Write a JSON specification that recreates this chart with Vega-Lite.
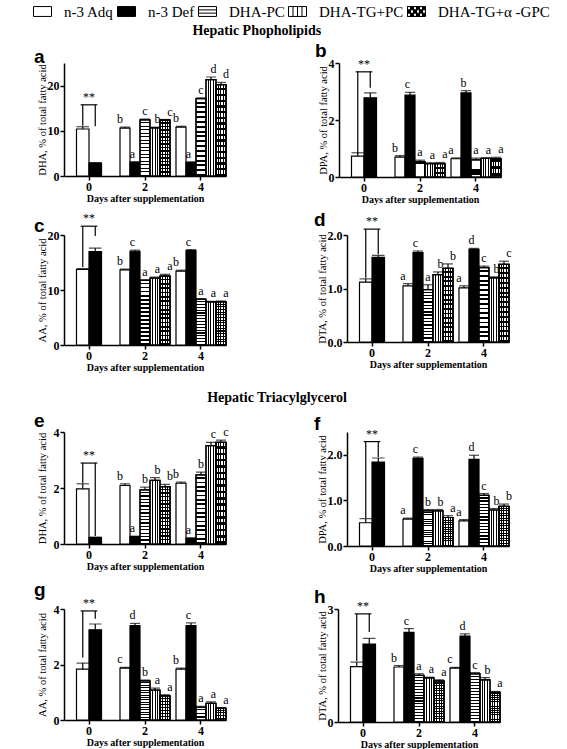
{
"$schema":"https://vega.github.io/schema/vega-lite/v6.json",
"padding":{"left":33,"top":2,"right":50,"bottom":0},
"datasets":{
"bars":[
{"panel":"a","day":0,"group":"n-3 Adq","mean":10.4,"upper":10.9,"letter":""},
{"panel":"a","day":0,"group":"n-3 Def","mean":2.85,"upper":2.95,"letter":""},
{"panel":"a","day":2,"group":"n-3 Adq","mean":10.6,"upper":10.8,"letter":"b"},
{"panel":"a","day":2,"group":"n-3 Def","mean":3.0,"upper":3.15,"letter":"a"},
{"panel":"a","day":2,"group":"DHA-PC","mean":12.4,"upper":12.6,"letter":"c"},
{"panel":"a","day":2,"group":"DHA-TG+PC","mean":10.65,"upper":10.8,"letter":"b"},
{"panel":"a","day":2,"group":"DHA-TG+α -GPC","mean":12.35,"upper":12.5,"letter":"c"},
{"panel":"a","day":4,"group":"n-3 Adq","mean":10.8,"upper":11.0,"letter":"b"},
{"panel":"a","day":4,"group":"n-3 Def","mean":3.0,"upper":3.1,"letter":"a"},
{"panel":"a","day":4,"group":"DHA-PC","mean":17.1,"upper":17.3,"letter":"c"},
{"panel":"a","day":4,"group":"DHA-TG+PC","mean":21.3,"upper":21.9,"letter":"d"},
{"panel":"a","day":4,"group":"DHA-TG+α -GPC","mean":20.2,"upper":20.7,"letter":"d"},
{"panel":"b","day":0,"group":"n-3 Adq","mean":0.73,"upper":0.85,"letter":""},
{"panel":"b","day":0,"group":"n-3 Def","mean":2.78,"upper":2.95,"letter":""},
{"panel":"b","day":2,"group":"n-3 Adq","mean":0.70,"upper":0.75,"letter":"b"},
{"panel":"b","day":2,"group":"n-3 Def","mean":2.87,"upper":2.97,"letter":"c"},
{"panel":"b","day":2,"group":"DHA-PC","mean":0.54,"upper":0.59,"letter":"a"},
{"panel":"b","day":2,"group":"DHA-TG+PC","mean":0.47,"upper":0.5,"letter":"a"},
{"panel":"b","day":2,"group":"DHA-TG+α -GPC","mean":0.47,"upper":0.51,"letter":"a"},
{"panel":"b","day":4,"group":"n-3 Adq","mean":0.64,"upper":0.67,"letter":"a"},
{"panel":"b","day":4,"group":"n-3 Def","mean":2.95,"upper":3.03,"letter":"b"},
{"panel":"b","day":4,"group":"DHA-PC","mean":0.6,"upper":0.66,"letter":"a"},
{"panel":"b","day":4,"group":"DHA-TG+PC","mean":0.65,"upper":0.68,"letter":"a"},
{"panel":"b","day":4,"group":"DHA-TG+α -GPC","mean":0.65,"upper":0.69,"letter":"a"},
{"panel":"c","day":0,"group":"n-3 Adq","mean":13.73,"upper":13.9,"letter":""},
{"panel":"c","day":0,"group":"n-3 Def","mean":17.0,"upper":17.6,"letter":""},
{"panel":"c","day":2,"group":"n-3 Adq","mean":13.67,"upper":13.8,"letter":"b"},
{"panel":"c","day":2,"group":"n-3 Def","mean":17.05,"upper":17.25,"letter":"c"},
{"panel":"c","day":2,"group":"DHA-PC","mean":11.75,"upper":11.85,"letter":"a"},
{"panel":"c","day":2,"group":"DHA-TG+PC","mean":12.17,"upper":12.35,"letter":"a"},
{"panel":"c","day":2,"group":"DHA-TG+α -GPC","mean":12.53,"upper":12.85,"letter":"a"},
{"panel":"c","day":4,"group":"n-3 Adq","mean":13.43,"upper":13.6,"letter":"b"},
{"panel":"c","day":4,"group":"n-3 Def","mean":17.17,"upper":17.35,"letter":"c"},
{"panel":"c","day":4,"group":"DHA-PC","mean":8.31,"upper":8.45,"letter":"a"},
{"panel":"c","day":4,"group":"DHA-TG+PC","mean":7.83,"upper":7.95,"letter":"a"},
{"panel":"c","day":4,"group":"DHA-TG+α -GPC","mean":7.83,"upper":8.0,"letter":"a"},
{"panel":"d","day":0,"group":"n-3 Adq","mean":1.12,"upper":1.18,"letter":""},
{"panel":"d","day":0,"group":"n-3 Def","mean":1.58,"upper":1.62,"letter":""},
{"panel":"d","day":2,"group":"n-3 Adq","mean":1.05,"upper":1.09,"letter":"a"},
{"panel":"d","day":2,"group":"n-3 Def","mean":1.67,"upper":1.70,"letter":"c"},
{"panel":"d","day":2,"group":"DHA-PC","mean":0.98,"upper":1.07,"letter":"a"},
{"panel":"d","day":2,"group":"DHA-TG+PC","mean":1.26,"upper":1.31,"letter":"b"},
{"panel":"d","day":2,"group":"DHA-TG+α -GPC","mean":1.375,"upper":1.46,"letter":"b"},
{"panel":"d","day":4,"group":"n-3 Adq","mean":1.01,"upper":1.05,"letter":"a"},
{"panel":"d","day":4,"group":"n-3 Def","mean":1.73,"upper":1.75,"letter":"d"},
{"panel":"d","day":4,"group":"DHA-PC","mean":1.39,"upper":1.42,"letter":"c"},
{"panel":"d","day":4,"group":"DHA-TG+PC","mean":1.2,"upper":1.22,"letter":"b"},
{"panel":"d","day":4,"group":"DHA-TG+α -GPC","mean":1.45,"upper":1.51,"letter":"c"},
{"panel":"e","day":0,"group":"n-3 Adq","mean":1.97,"upper":2.15,"letter":""},
{"panel":"e","day":0,"group":"n-3 Def","mean":0.23,"upper":0.25,"letter":""},
{"panel":"e","day":2,"group":"n-3 Adq","mean":2.09,"upper":2.15,"letter":"b"},
{"panel":"e","day":2,"group":"n-3 Def","mean":0.26,"upper":0.28,"letter":"a"},
{"panel":"e","day":2,"group":"DHA-PC","mean":1.93,"upper":2.03,"letter":"b"},
{"panel":"e","day":2,"group":"DHA-TG+PC","mean":2.27,"upper":2.37,"letter":"b"},
{"panel":"e","day":2,"group":"DHA-TG+α -GPC","mean":2.05,"upper":2.13,"letter":"b"},
{"panel":"e","day":4,"group":"n-3 Adq","mean":2.17,"upper":2.21,"letter":"b"},
{"panel":"e","day":4,"group":"n-3 Def","mean":0.2,"upper":0.22,"letter":"a"},
{"panel":"e","day":4,"group":"DHA-PC","mean":2.47,"upper":2.57,"letter":"b"},
{"panel":"e","day":4,"group":"DHA-TG+PC","mean":3.51,"upper":3.63,"letter":"c"},
{"panel":"e","day":4,"group":"DHA-TG+α -GPC","mean":3.63,"upper":3.71,"letter":"c"},
{"panel":"f","day":0,"group":"n-3 Adq","mean":0.51,"upper":0.6,"letter":""},
{"panel":"f","day":0,"group":"n-3 Def","mean":1.84,"upper":1.93,"letter":""},
{"panel":"f","day":2,"group":"n-3 Adq","mean":0.59,"upper":0.61,"letter":"a"},
{"panel":"f","day":2,"group":"n-3 Def","mean":1.92,"upper":1.95,"letter":"c"},
{"panel":"f","day":2,"group":"DHA-PC","mean":0.77,"upper":0.8,"letter":"b"},
{"panel":"f","day":2,"group":"DHA-TG+PC","mean":0.77,"upper":0.8,"letter":"b"},
{"panel":"f","day":2,"group":"DHA-TG+α -GPC","mean":0.625,"upper":0.665,"letter":"a"},
{"panel":"f","day":4,"group":"n-3 Adq","mean":0.55,"upper":0.58,"letter":"a"},
{"panel":"f","day":4,"group":"n-3 Def","mean":1.9,"upper":1.99,"letter":"d"},
{"panel":"f","day":4,"group":"DHA-PC","mean":1.11,"upper":1.15,"letter":"c"},
{"panel":"f","day":4,"group":"DHA-TG+PC","mean":0.79,"upper":0.82,"letter":"b"},
{"panel":"f","day":4,"group":"DHA-TG+α -GPC","mean":0.87,"upper":0.92,"letter":"b"},
{"panel":"g","day":0,"group":"n-3 Adq","mean":1.83,"upper":2.05,"letter":""},
{"panel":"g","day":0,"group":"n-3 Def","mean":3.25,"upper":3.46,"letter":""},
{"panel":"g","day":2,"group":"n-3 Adq","mean":1.87,"upper":1.9,"letter":"c"},
{"panel":"g","day":2,"group":"n-3 Def","mean":3.4,"upper":3.48,"letter":"d"},
{"panel":"g","day":2,"group":"DHA-PC","mean":1.41,"upper":1.44,"letter":"b"},
{"panel":"g","day":2,"group":"DHA-TG+PC","mean":1.08,"upper":1.15,"letter":"a"},
{"panel":"g","day":2,"group":"DHA-TG+α -GPC","mean":0.87,"upper":0.91,"letter":"a"},
{"panel":"g","day":4,"group":"n-3 Adq","mean":1.83,"upper":1.87,"letter":"b"},
{"panel":"g","day":4,"group":"n-3 Def","mean":3.4,"upper":3.5,"letter":"c"},
{"panel":"g","day":4,"group":"DHA-PC","mean":0.46,"upper":0.49,"letter":"a"},
{"panel":"g","day":4,"group":"DHA-TG+PC","mean":0.6,"upper":0.65,"letter":"a"},
{"panel":"g","day":4,"group":"DHA-TG+α -GPC","mean":0.42,"upper":0.45,"letter":"a"},
{"panel":"h","day":0,"group":"n-3 Adq","mean":1.47,"upper":1.59,"letter":""},
{"panel":"h","day":0,"group":"n-3 Def","mean":2.07,"upper":2.22,"letter":""},
{"panel":"h","day":2,"group":"n-3 Adq","mean":1.46,"upper":1.5,"letter":"b"},
{"panel":"h","day":2,"group":"n-3 Def","mean":2.38,"upper":2.48,"letter":"c"},
{"panel":"h","day":2,"group":"DHA-PC","mean":1.24,"upper":1.28,"letter":"a"},
{"panel":"h","day":2,"group":"DHA-TG+PC","mean":1.17,"upper":1.19,"letter":"a"},
{"panel":"h","day":2,"group":"DHA-TG+α -GPC","mean":1.09,"upper":1.12,"letter":"a"},
{"panel":"h","day":4,"group":"n-3 Adq","mean":1.43,"upper":1.45,"letter":"c"},
{"panel":"h","day":4,"group":"n-3 Def","mean":2.28,"upper":2.34,"letter":"d"},
{"panel":"h","day":4,"group":"DHA-PC","mean":1.28,"upper":1.31,"letter":"c"},
{"panel":"h","day":4,"group":"DHA-TG+PC","mean":1.12,"upper":1.18,"letter":"b"},
{"panel":"h","day":4,"group":"DHA-TG+α -GPC","mean":0.79,"upper":0.81,"letter":"a"}
],
"brackets":[
{"panel":"a","day":0,"group":"n-3 Adq","bottom":11.1,"top":15.75},
{"panel":"a","day":0,"group":"n-3 Def","bottom":11.0,"top":15.75},
{"panel":"b","day":0,"group":"n-3 Adq","bottom":0.82,"top":3.69},
{"panel":"b","day":0,"group":"n-3 Def","bottom":3.13,"top":3.69},
{"panel":"c","day":0,"group":"n-3 Adq","bottom":14.2,"top":21.6},
{"panel":"c","day":0,"group":"n-3 Def","bottom":19.8,"top":21.6},
{"panel":"d","day":0,"group":"n-3 Adq","bottom":1.2,"top":2.11},
{"panel":"d","day":0,"group":"n-3 Def","bottom":1.64,"top":2.11},
{"panel":"e","day":0,"group":"n-3 Adq","bottom":2.18,"top":2.89},
{"panel":"e","day":0,"group":"n-3 Def","bottom":0.29,"top":2.89},
{"panel":"f","day":0,"group":"n-3 Adq","bottom":0.61,"top":2.29},
{"panel":"f","day":0,"group":"n-3 Def","bottom":1.95,"top":2.29},
{"panel":"g","day":0,"group":"n-3 Adq","bottom":2.25,"top":3.93},
{"panel":"g","day":0,"group":"n-3 Def","bottom":3.65,"top":3.93},
{"panel":"h","day":0,"group":"n-3 Adq","bottom":1.62,"top":2.87},
{"panel":"h","day":0,"group":"n-3 Def","bottom":2.39,"top":2.87}
]
},
"spacing":7,
"vconcat":[
{"width":1,"height":15,"data":{"name":"bars"},"transform":[{"filter":"false"}],"mark":{"type":"point","filled":true,"opacity":1,"stroke":"black","strokeWidth":1},"encoding":{
"shape":{"field":"group","type":"nominal","scale":{"domain":["n-3 Adq","n-3 Def","DHA-PC","DHA-TG+PC","DHA-TG+α -GPC"],"range":["M-1,-0.55H1V0.55H-1Z","M-1,-0.55H1V0.55H-1Z","M-1,-0.55H1V0.55H-1ZM-1,-0.18H1M-1,0.18H1","M-1,-0.55H1V0.55H-1ZM-0.5,-0.55V0.55M0,-0.55V0.55M0.5,-0.55V0.55","M-1,-0.55H1V0.55H-1ZM-1,-0.55V-0.183H-0.667V-0.55ZM-0.333,-0.55V-0.183H0V-0.55ZM0.333,-0.55V-0.183H0.667V-0.55ZM-0.667,-0.183V0.183H-0.333V-0.183ZM0,-0.183V0.183H0.333V-0.183ZM0.667,-0.183V0.183H1V-0.183ZM-1,0.183V0.55H-0.667V0.183ZM-0.333,0.183V0.55H0V0.183ZM0.333,0.183V0.55H0.667V0.183Z"]},"legend":{"title":null,"orient":"none","legendX":-31,"legendY":0,"direction":"horizontal","gridAlign":"none","labelFont":"Liberation Serif","labelFontSize":15,"labelColor":"black","symbolSize":324,"symbolStrokeColor":"black","symbolStrokeWidth":1,"symbolOpacity":1,"labelOffset":12,"columnPadding":1,"labelLimit":300,"encode":{"symbols":{"update":{"stroke":{"value":"black"},"strokeWidth":{"value":1},"opacity":{"value":1}}}}}},
"fill":{"field":"group","type":"nominal","scale":{"domain":["n-3 Adq","n-3 Def","DHA-PC","DHA-TG+PC","DHA-TG+α -GPC"],"range":["white","black","white","white","black"]},"legend":{"title":null,"orient":"none","legendX":-31,"legendY":0,"direction":"horizontal","gridAlign":"none","labelFont":"Liberation Serif","labelFontSize":15,"labelColor":"black","symbolSize":324,"symbolStrokeColor":"black","symbolStrokeWidth":1,"symbolOpacity":1,"labelOffset":12,"columnPadding":1,"labelLimit":300,"encode":{"symbols":{"update":{"stroke":{"value":"black"},"strokeWidth":{"value":1},"opacity":{"value":1}}}}}}}},
{"title":{"text":"Hepatic Phopholipids","anchor":"middle","dx":-12},"spacing":85,"hconcat":[
{"width":162,"height":113,"title":{"text":"a","anchor":"start","font":"Liberation Sans","fontSize":19,"fontWeight":"bold","offset":-4,"dx":-3},"resolve":{"scale":{"xOffset":"independent"}},"layer":[
{"data":{"name":"bars"},"transform":[{"filter":"datum.panel=='a'&&datum.day>0"}],"mark":"bar","encoding":{"x":{"field":"day","type":"ordinal","scale":{"domain":[0,2,4],"paddingInner":0.107,"paddingOuter":0},"axis":{"title":"Days after supplementation"}},"xOffset":{"field":"group","type":"nominal","scale":{"domain":["n-3 Adq","n-3 Def","DHA-PC","DHA-TG+PC","DHA-TG+α -GPC"],"paddingInner":0,"paddingOuter":0}},"y":{"field":"mean","type":"quantitative","scale":{"domain":[0,25],"nice":false},"axis":{"title":"DHA, % of total fatty acid","values":[0,5,10,15,20,25]}},"fill":{"condition":{"test":"datum.group=='n-3 Def'","value":"black"},"value":"white"}}},
{"data":{"name":"bars"},"transform":[{"filter":"datum.panel=='a'&&(datum.group=='DHA-PC'||datum.group=='DHA-TG+α -GPC')"}],"mark":{"type":"bar","fill":{"gradient":"linear","x1":0,"y1":0,"x2":0,"y2":1,"stops":[{"offset":0,"color":"transparent"},{"offset":0.0375,"color":"transparent"},{"offset":0.0375,"color":"black"},{"offset":0.0625,"color":"black"},{"offset":0.0625,"color":"transparent"},{"offset":0.1,"color":"transparent"},{"offset":0.1,"color":"black"},{"offset":0.125,"color":"black"},{"offset":0.125,"color":"transparent"},{"offset":0.1625,"color":"transparent"},{"offset":0.1625,"color":"black"},{"offset":0.1875,"color":"black"},{"offset":0.1875,"color":"transparent"},{"offset":0.225,"color":"transparent"},{"offset":0.225,"color":"black"},{"offset":0.25,"color":"black"},{"offset":0.25,"color":"transparent"},{"offset":0.2875,"color":"transparent"},{"offset":0.2875,"color":"black"},{"offset":0.3125,"color":"black"},{"offset":0.3125,"color":"transparent"},{"offset":0.35,"color":"transparent"},{"offset":0.35,"color":"black"},{"offset":0.375,"color":"black"},{"offset":0.375,"color":"transparent"},{"offset":0.4125,"color":"transparent"},{"offset":0.4125,"color":"black"},{"offset":0.4375,"color":"black"},{"offset":0.4375,"color":"transparent"},{"offset":0.475,"color":"transparent"},{"offset":0.475,"color":"black"},{"offset":0.5,"color":"black"},{"offset":0.5,"color":"transparent"},{"offset":0.5375,"color":"transparent"},{"offset":0.5375,"color":"black"},{"offset":0.5625,"color":"black"},{"offset":0.5625,"color":"transparent"},{"offset":0.6,"color":"transparent"},{"offset":0.6,"color":"black"},{"offset":0.625,"color":"black"},{"offset":0.625,"color":"transparent"},{"offset":0.6625,"color":"transparent"},{"offset":0.6625,"color":"black"},{"offset":0.6875,"color":"black"},{"offset":0.6875,"color":"transparent"},{"offset":0.725,"color":"transparent"},{"offset":0.725,"color":"black"},{"offset":0.75,"color":"black"},{"offset":0.75,"color":"transparent"},{"offset":0.7875,"color":"transparent"},{"offset":0.7875,"color":"black"},{"offset":0.8125,"color":"black"},{"offset":0.8125,"color":"transparent"},{"offset":0.85,"color":"transparent"},{"offset":0.85,"color":"black"},{"offset":0.875,"color":"black"},{"offset":0.875,"color":"transparent"},{"offset":0.9125,"color":"transparent"},{"offset":0.9125,"color":"black"},{"offset":0.9375,"color":"black"},{"offset":0.9375,"color":"transparent"},{"offset":0.975,"color":"transparent"},{"offset":0.975,"color":"black"},{"offset":1,"color":"black"}]}},"encoding":{"x":{"field":"day","type":"ordinal"},"xOffset":{"field":"group","type":"nominal","scale":{"domain":["n-3 Adq","n-3 Def","DHA-PC","DHA-TG+PC","DHA-TG+α -GPC"],"paddingInner":0,"paddingOuter":0}},"y":{"field":"mean","type":"quantitative"}}},
{"data":{"name":"bars"},"transform":[{"filter":"datum.panel=='a'&&(datum.group=='DHA-TG+PC'||datum.group=='DHA-TG+α -GPC')"}],"mark":{"type":"bar","fill":{"gradient":"linear","x1":0,"y1":0,"x2":1,"y2":0,"stops":[{"offset":0,"color":"transparent"},{"offset":0.2,"color":"transparent"},{"offset":0.2,"color":"black"},{"offset":0.3,"color":"black"},{"offset":0.3,"color":"transparent"},{"offset":0.45,"color":"transparent"},{"offset":0.45,"color":"black"},{"offset":0.55,"color":"black"},{"offset":0.55,"color":"transparent"},{"offset":0.7,"color":"transparent"},{"offset":0.7,"color":"black"},{"offset":0.8,"color":"black"},{"offset":0.8,"color":"transparent"},{"offset":1,"color":"transparent"}]}},"encoding":{"x":{"field":"day","type":"ordinal"},"xOffset":{"field":"group","type":"nominal","scale":{"domain":["n-3 Adq","n-3 Def","DHA-PC","DHA-TG+PC","DHA-TG+α -GPC"],"paddingInner":0,"paddingOuter":0}},"y":{"field":"mean","type":"quantitative"}}},
{"data":{"name":"bars"},"transform":[{"filter":"datum.panel=='a'&&datum.day>0"}],"mark":"rule","encoding":{"x":{"field":"day","type":"ordinal"},"xOffset":{"field":"group","type":"nominal","scale":{"domain":["n-3 Adq","n-3 Def","DHA-PC","DHA-TG+PC","DHA-TG+α -GPC"],"paddingInner":0,"paddingOuter":0}},"y":{"field":"mean","type":"quantitative"},"y2":{"field":"upper"}}},
{"data":{"name":"bars"},"transform":[{"filter":"datum.panel=='a'&&datum.day>0"}],"mark":"tick","encoding":{"x":{"field":"day","type":"ordinal"},"xOffset":{"field":"group","type":"nominal","scale":{"domain":["n-3 Adq","n-3 Def","DHA-PC","DHA-TG+PC","DHA-TG+α -GPC"],"paddingInner":0,"paddingOuter":0}},"y":{"field":"upper","type":"quantitative"}}},
{"data":{"name":"bars"},"transform":[{"filter":"datum.panel=='a'&&datum.day>0"}],"mark":"text","encoding":{"x":{"field":"day","type":"ordinal"},"xOffset":{"field":"group","type":"nominal","scale":{"domain":["n-3 Adq","n-3 Def","DHA-PC","DHA-TG+PC","DHA-TG+α -GPC"],"paddingInner":0,"paddingOuter":0}},"y":{"field":"upper","type":"quantitative"},"text":{"field":"letter"}}},
{"data":{"name":"bars"},"transform":[{"filter":"datum.panel=='a'&&datum.day==0"}],"mark":"bar","encoding":{"x":{"field":"day","type":"ordinal"},"xOffset":{"field":"group","type":"nominal","scale":{"domain":["n-3 Adq","n-3 Def"],"paddingInner":0,"paddingOuter":1.5}},"y":{"field":"mean","type":"quantitative"},"fill":{"condition":{"test":"datum.group=='n-3 Def'","value":"black"},"value":"white"}}},
{"data":{"name":"bars"},"transform":[{"filter":"datum.panel=='a'&&datum.day==0"}],"mark":"rule","encoding":{"x":{"field":"day","type":"ordinal"},"xOffset":{"field":"group","type":"nominal","scale":{"domain":["n-3 Adq","n-3 Def"],"paddingInner":0,"paddingOuter":1.5}},"y":{"field":"mean","type":"quantitative"},"y2":{"field":"upper"}}},
{"data":{"name":"bars"},"transform":[{"filter":"datum.panel=='a'&&datum.day==0"}],"mark":"tick","encoding":{"x":{"field":"day","type":"ordinal"},"xOffset":{"field":"group","type":"nominal","scale":{"domain":["n-3 Adq","n-3 Def"],"paddingInner":0,"paddingOuter":1.5}},"y":{"field":"upper","type":"quantitative"}}},
{"data":{"name":"brackets"},"transform":[{"filter":"datum.panel=='a'"}],"mark":"rule","encoding":{"x":{"field":"day","type":"ordinal"},"xOffset":{"field":"group","type":"nominal","scale":{"domain":["n-3 Adq","n-3 Def"],"paddingInner":0,"paddingOuter":1.5}},"y":{"field":"bottom","type":"quantitative"},"y2":{"field":"top"}}},
{"data":{"name":"brackets"},"transform":[{"filter":"datum.panel=='a'"}],"mark":"line","encoding":{"x":{"field":"day","type":"ordinal"},"xOffset":{"field":"group","type":"nominal","scale":{"domain":["n-3 Adq","n-3 Def"],"paddingInner":0,"paddingOuter":1.5}},"y":{"field":"top","type":"quantitative"}}},
{"data":{"name":"brackets"},"transform":[{"filter":"datum.panel=='a'&&datum.group=='n-3 Adq'"}],"mark":"text","encoding":{"x":{"field":"day","type":"ordinal"},"y":{"field":"top","type":"quantitative"},"text":{"value":"**"}}}
]},
{"width":162,"height":114,"title":{"text":"b","anchor":"start","font":"Liberation Sans","fontSize":19,"fontWeight":"bold","offset":-4,"dx":-3},"resolve":{"scale":{"xOffset":"independent"}},"layer":[
{"data":{"name":"bars"},"transform":[{"filter":"datum.panel=='b'&&datum.day>0"}],"mark":"bar","encoding":{"x":{"field":"day","type":"ordinal","scale":{"domain":[0,2,4],"paddingInner":0.107,"paddingOuter":0},"axis":{"title":"Days after supplementation"}},"xOffset":{"field":"group","type":"nominal","scale":{"domain":["n-3 Adq","n-3 Def","DHA-PC","DHA-TG+PC","DHA-TG+α -GPC"],"paddingInner":0,"paddingOuter":0}},"y":{"field":"mean","type":"quantitative","scale":{"domain":[0,4],"nice":false},"axis":{"title":"DPA, % of total fatty acid","values":[0,1,2,3,4]}},"fill":{"condition":{"test":"datum.group=='n-3 Def'","value":"black"},"value":"white"}}},
{"data":{"name":"bars"},"transform":[{"filter":"datum.panel=='b'&&(datum.group=='DHA-PC'||datum.group=='DHA-TG+α -GPC')"}],"mark":{"type":"bar","fill":{"gradient":"linear","x1":0,"y1":0,"x2":0,"y2":1,"stops":[{"offset":0,"color":"transparent"},{"offset":0.0375,"color":"transparent"},{"offset":0.0375,"color":"black"},{"offset":0.0625,"color":"black"},{"offset":0.0625,"color":"transparent"},{"offset":0.1,"color":"transparent"},{"offset":0.1,"color":"black"},{"offset":0.125,"color":"black"},{"offset":0.125,"color":"transparent"},{"offset":0.1625,"color":"transparent"},{"offset":0.1625,"color":"black"},{"offset":0.1875,"color":"black"},{"offset":0.1875,"color":"transparent"},{"offset":0.225,"color":"transparent"},{"offset":0.225,"color":"black"},{"offset":0.25,"color":"black"},{"offset":0.25,"color":"transparent"},{"offset":0.2875,"color":"transparent"},{"offset":0.2875,"color":"black"},{"offset":0.3125,"color":"black"},{"offset":0.3125,"color":"transparent"},{"offset":0.35,"color":"transparent"},{"offset":0.35,"color":"black"},{"offset":0.375,"color":"black"},{"offset":0.375,"color":"transparent"},{"offset":0.4125,"color":"transparent"},{"offset":0.4125,"color":"black"},{"offset":0.4375,"color":"black"},{"offset":0.4375,"color":"transparent"},{"offset":0.475,"color":"transparent"},{"offset":0.475,"color":"black"},{"offset":0.5,"color":"black"},{"offset":0.5,"color":"transparent"},{"offset":0.5375,"color":"transparent"},{"offset":0.5375,"color":"black"},{"offset":0.5625,"color":"black"},{"offset":0.5625,"color":"transparent"},{"offset":0.6,"color":"transparent"},{"offset":0.6,"color":"black"},{"offset":0.625,"color":"black"},{"offset":0.625,"color":"transparent"},{"offset":0.6625,"color":"transparent"},{"offset":0.6625,"color":"black"},{"offset":0.6875,"color":"black"},{"offset":0.6875,"color":"transparent"},{"offset":0.725,"color":"transparent"},{"offset":0.725,"color":"black"},{"offset":0.75,"color":"black"},{"offset":0.75,"color":"transparent"},{"offset":0.7875,"color":"transparent"},{"offset":0.7875,"color":"black"},{"offset":0.8125,"color":"black"},{"offset":0.8125,"color":"transparent"},{"offset":0.85,"color":"transparent"},{"offset":0.85,"color":"black"},{"offset":0.875,"color":"black"},{"offset":0.875,"color":"transparent"},{"offset":0.9125,"color":"transparent"},{"offset":0.9125,"color":"black"},{"offset":0.9375,"color":"black"},{"offset":0.9375,"color":"transparent"},{"offset":0.975,"color":"transparent"},{"offset":0.975,"color":"black"},{"offset":1,"color":"black"}]}},"encoding":{"x":{"field":"day","type":"ordinal"},"xOffset":{"field":"group","type":"nominal","scale":{"domain":["n-3 Adq","n-3 Def","DHA-PC","DHA-TG+PC","DHA-TG+α -GPC"],"paddingInner":0,"paddingOuter":0}},"y":{"field":"mean","type":"quantitative"}}},
{"data":{"name":"bars"},"transform":[{"filter":"datum.panel=='b'&&(datum.group=='DHA-TG+PC'||datum.group=='DHA-TG+α -GPC')"}],"mark":{"type":"bar","fill":{"gradient":"linear","x1":0,"y1":0,"x2":1,"y2":0,"stops":[{"offset":0,"color":"transparent"},{"offset":0.2,"color":"transparent"},{"offset":0.2,"color":"black"},{"offset":0.3,"color":"black"},{"offset":0.3,"color":"transparent"},{"offset":0.45,"color":"transparent"},{"offset":0.45,"color":"black"},{"offset":0.55,"color":"black"},{"offset":0.55,"color":"transparent"},{"offset":0.7,"color":"transparent"},{"offset":0.7,"color":"black"},{"offset":0.8,"color":"black"},{"offset":0.8,"color":"transparent"},{"offset":1,"color":"transparent"}]}},"encoding":{"x":{"field":"day","type":"ordinal"},"xOffset":{"field":"group","type":"nominal","scale":{"domain":["n-3 Adq","n-3 Def","DHA-PC","DHA-TG+PC","DHA-TG+α -GPC"],"paddingInner":0,"paddingOuter":0}},"y":{"field":"mean","type":"quantitative"}}},
{"data":{"name":"bars"},"transform":[{"filter":"datum.panel=='b'&&datum.day>0"}],"mark":"rule","encoding":{"x":{"field":"day","type":"ordinal"},"xOffset":{"field":"group","type":"nominal","scale":{"domain":["n-3 Adq","n-3 Def","DHA-PC","DHA-TG+PC","DHA-TG+α -GPC"],"paddingInner":0,"paddingOuter":0}},"y":{"field":"mean","type":"quantitative"},"y2":{"field":"upper"}}},
{"data":{"name":"bars"},"transform":[{"filter":"datum.panel=='b'&&datum.day>0"}],"mark":"tick","encoding":{"x":{"field":"day","type":"ordinal"},"xOffset":{"field":"group","type":"nominal","scale":{"domain":["n-3 Adq","n-3 Def","DHA-PC","DHA-TG+PC","DHA-TG+α -GPC"],"paddingInner":0,"paddingOuter":0}},"y":{"field":"upper","type":"quantitative"}}},
{"data":{"name":"bars"},"transform":[{"filter":"datum.panel=='b'&&datum.day>0"}],"mark":"text","encoding":{"x":{"field":"day","type":"ordinal"},"xOffset":{"field":"group","type":"nominal","scale":{"domain":["n-3 Adq","n-3 Def","DHA-PC","DHA-TG+PC","DHA-TG+α -GPC"],"paddingInner":0,"paddingOuter":0}},"y":{"field":"upper","type":"quantitative"},"text":{"field":"letter"}}},
{"data":{"name":"bars"},"transform":[{"filter":"datum.panel=='b'&&datum.day==0"}],"mark":"bar","encoding":{"x":{"field":"day","type":"ordinal"},"xOffset":{"field":"group","type":"nominal","scale":{"domain":["n-3 Adq","n-3 Def"],"paddingInner":0,"paddingOuter":1.5}},"y":{"field":"mean","type":"quantitative"},"fill":{"condition":{"test":"datum.group=='n-3 Def'","value":"black"},"value":"white"}}},
{"data":{"name":"bars"},"transform":[{"filter":"datum.panel=='b'&&datum.day==0"}],"mark":"rule","encoding":{"x":{"field":"day","type":"ordinal"},"xOffset":{"field":"group","type":"nominal","scale":{"domain":["n-3 Adq","n-3 Def"],"paddingInner":0,"paddingOuter":1.5}},"y":{"field":"mean","type":"quantitative"},"y2":{"field":"upper"}}},
{"data":{"name":"bars"},"transform":[{"filter":"datum.panel=='b'&&datum.day==0"}],"mark":"tick","encoding":{"x":{"field":"day","type":"ordinal"},"xOffset":{"field":"group","type":"nominal","scale":{"domain":["n-3 Adq","n-3 Def"],"paddingInner":0,"paddingOuter":1.5}},"y":{"field":"upper","type":"quantitative"}}},
{"data":{"name":"brackets"},"transform":[{"filter":"datum.panel=='b'"}],"mark":"rule","encoding":{"x":{"field":"day","type":"ordinal"},"xOffset":{"field":"group","type":"nominal","scale":{"domain":["n-3 Adq","n-3 Def"],"paddingInner":0,"paddingOuter":1.5}},"y":{"field":"bottom","type":"quantitative"},"y2":{"field":"top"}}},
{"data":{"name":"brackets"},"transform":[{"filter":"datum.panel=='b'"}],"mark":"line","encoding":{"x":{"field":"day","type":"ordinal"},"xOffset":{"field":"group","type":"nominal","scale":{"domain":["n-3 Adq","n-3 Def"],"paddingInner":0,"paddingOuter":1.5}},"y":{"field":"top","type":"quantitative"}}},
{"data":{"name":"brackets"},"transform":[{"filter":"datum.panel=='b'&&datum.group=='n-3 Adq'"}],"mark":"text","encoding":{"x":{"field":"day","type":"ordinal"},"y":{"field":"top","type":"quantitative"},"text":{"value":"**"}}}
]}
]},
{"spacing":85,"hconcat":[
{"width":162,"height":110,"title":{"text":"c","anchor":"start","font":"Liberation Sans","fontSize":19,"fontWeight":"bold","offset":-24,"dx":-3},"resolve":{"scale":{"xOffset":"independent"}},"layer":[
{"data":{"name":"bars"},"transform":[{"filter":"datum.panel=='c'&&datum.day>0"}],"mark":"bar","encoding":{"x":{"field":"day","type":"ordinal","scale":{"domain":[0,2,4],"paddingInner":0.107,"paddingOuter":0},"axis":{"title":"Days after supplementation"}},"xOffset":{"field":"group","type":"nominal","scale":{"domain":["n-3 Adq","n-3 Def","DHA-PC","DHA-TG+PC","DHA-TG+α -GPC"],"paddingInner":0,"paddingOuter":0}},"y":{"field":"mean","type":"quantitative","scale":{"domain":[0,20],"nice":false},"axis":{"title":"AA, % of total fatty acid","values":[0,5,10,15,20]}},"fill":{"condition":{"test":"datum.group=='n-3 Def'","value":"black"},"value":"white"}}},
{"data":{"name":"bars"},"transform":[{"filter":"datum.panel=='c'&&(datum.group=='DHA-PC'||datum.group=='DHA-TG+α -GPC')"}],"mark":{"type":"bar","fill":{"gradient":"linear","x1":0,"y1":0,"x2":0,"y2":1,"stops":[{"offset":0,"color":"transparent"},{"offset":0.0375,"color":"transparent"},{"offset":0.0375,"color":"black"},{"offset":0.0625,"color":"black"},{"offset":0.0625,"color":"transparent"},{"offset":0.1,"color":"transparent"},{"offset":0.1,"color":"black"},{"offset":0.125,"color":"black"},{"offset":0.125,"color":"transparent"},{"offset":0.1625,"color":"transparent"},{"offset":0.1625,"color":"black"},{"offset":0.1875,"color":"black"},{"offset":0.1875,"color":"transparent"},{"offset":0.225,"color":"transparent"},{"offset":0.225,"color":"black"},{"offset":0.25,"color":"black"},{"offset":0.25,"color":"transparent"},{"offset":0.2875,"color":"transparent"},{"offset":0.2875,"color":"black"},{"offset":0.3125,"color":"black"},{"offset":0.3125,"color":"transparent"},{"offset":0.35,"color":"transparent"},{"offset":0.35,"color":"black"},{"offset":0.375,"color":"black"},{"offset":0.375,"color":"transparent"},{"offset":0.4125,"color":"transparent"},{"offset":0.4125,"color":"black"},{"offset":0.4375,"color":"black"},{"offset":0.4375,"color":"transparent"},{"offset":0.475,"color":"transparent"},{"offset":0.475,"color":"black"},{"offset":0.5,"color":"black"},{"offset":0.5,"color":"transparent"},{"offset":0.5375,"color":"transparent"},{"offset":0.5375,"color":"black"},{"offset":0.5625,"color":"black"},{"offset":0.5625,"color":"transparent"},{"offset":0.6,"color":"transparent"},{"offset":0.6,"color":"black"},{"offset":0.625,"color":"black"},{"offset":0.625,"color":"transparent"},{"offset":0.6625,"color":"transparent"},{"offset":0.6625,"color":"black"},{"offset":0.6875,"color":"black"},{"offset":0.6875,"color":"transparent"},{"offset":0.725,"color":"transparent"},{"offset":0.725,"color":"black"},{"offset":0.75,"color":"black"},{"offset":0.75,"color":"transparent"},{"offset":0.7875,"color":"transparent"},{"offset":0.7875,"color":"black"},{"offset":0.8125,"color":"black"},{"offset":0.8125,"color":"transparent"},{"offset":0.85,"color":"transparent"},{"offset":0.85,"color":"black"},{"offset":0.875,"color":"black"},{"offset":0.875,"color":"transparent"},{"offset":0.9125,"color":"transparent"},{"offset":0.9125,"color":"black"},{"offset":0.9375,"color":"black"},{"offset":0.9375,"color":"transparent"},{"offset":0.975,"color":"transparent"},{"offset":0.975,"color":"black"},{"offset":1,"color":"black"}]}},"encoding":{"x":{"field":"day","type":"ordinal"},"xOffset":{"field":"group","type":"nominal","scale":{"domain":["n-3 Adq","n-3 Def","DHA-PC","DHA-TG+PC","DHA-TG+α -GPC"],"paddingInner":0,"paddingOuter":0}},"y":{"field":"mean","type":"quantitative"}}},
{"data":{"name":"bars"},"transform":[{"filter":"datum.panel=='c'&&(datum.group=='DHA-TG+PC'||datum.group=='DHA-TG+α -GPC')"}],"mark":{"type":"bar","fill":{"gradient":"linear","x1":0,"y1":0,"x2":1,"y2":0,"stops":[{"offset":0,"color":"transparent"},{"offset":0.2,"color":"transparent"},{"offset":0.2,"color":"black"},{"offset":0.3,"color":"black"},{"offset":0.3,"color":"transparent"},{"offset":0.45,"color":"transparent"},{"offset":0.45,"color":"black"},{"offset":0.55,"color":"black"},{"offset":0.55,"color":"transparent"},{"offset":0.7,"color":"transparent"},{"offset":0.7,"color":"black"},{"offset":0.8,"color":"black"},{"offset":0.8,"color":"transparent"},{"offset":1,"color":"transparent"}]}},"encoding":{"x":{"field":"day","type":"ordinal"},"xOffset":{"field":"group","type":"nominal","scale":{"domain":["n-3 Adq","n-3 Def","DHA-PC","DHA-TG+PC","DHA-TG+α -GPC"],"paddingInner":0,"paddingOuter":0}},"y":{"field":"mean","type":"quantitative"}}},
{"data":{"name":"bars"},"transform":[{"filter":"datum.panel=='c'&&datum.day>0"}],"mark":"rule","encoding":{"x":{"field":"day","type":"ordinal"},"xOffset":{"field":"group","type":"nominal","scale":{"domain":["n-3 Adq","n-3 Def","DHA-PC","DHA-TG+PC","DHA-TG+α -GPC"],"paddingInner":0,"paddingOuter":0}},"y":{"field":"mean","type":"quantitative"},"y2":{"field":"upper"}}},
{"data":{"name":"bars"},"transform":[{"filter":"datum.panel=='c'&&datum.day>0"}],"mark":"tick","encoding":{"x":{"field":"day","type":"ordinal"},"xOffset":{"field":"group","type":"nominal","scale":{"domain":["n-3 Adq","n-3 Def","DHA-PC","DHA-TG+PC","DHA-TG+α -GPC"],"paddingInner":0,"paddingOuter":0}},"y":{"field":"upper","type":"quantitative"}}},
{"data":{"name":"bars"},"transform":[{"filter":"datum.panel=='c'&&datum.day>0"}],"mark":"text","encoding":{"x":{"field":"day","type":"ordinal"},"xOffset":{"field":"group","type":"nominal","scale":{"domain":["n-3 Adq","n-3 Def","DHA-PC","DHA-TG+PC","DHA-TG+α -GPC"],"paddingInner":0,"paddingOuter":0}},"y":{"field":"upper","type":"quantitative"},"text":{"field":"letter"}}},
{"data":{"name":"bars"},"transform":[{"filter":"datum.panel=='c'&&datum.day==0"}],"mark":"bar","encoding":{"x":{"field":"day","type":"ordinal"},"xOffset":{"field":"group","type":"nominal","scale":{"domain":["n-3 Adq","n-3 Def"],"paddingInner":0,"paddingOuter":1.5}},"y":{"field":"mean","type":"quantitative"},"fill":{"condition":{"test":"datum.group=='n-3 Def'","value":"black"},"value":"white"}}},
{"data":{"name":"bars"},"transform":[{"filter":"datum.panel=='c'&&datum.day==0"}],"mark":"rule","encoding":{"x":{"field":"day","type":"ordinal"},"xOffset":{"field":"group","type":"nominal","scale":{"domain":["n-3 Adq","n-3 Def"],"paddingInner":0,"paddingOuter":1.5}},"y":{"field":"mean","type":"quantitative"},"y2":{"field":"upper"}}},
{"data":{"name":"bars"},"transform":[{"filter":"datum.panel=='c'&&datum.day==0"}],"mark":"tick","encoding":{"x":{"field":"day","type":"ordinal"},"xOffset":{"field":"group","type":"nominal","scale":{"domain":["n-3 Adq","n-3 Def"],"paddingInner":0,"paddingOuter":1.5}},"y":{"field":"upper","type":"quantitative"}}},
{"data":{"name":"brackets"},"transform":[{"filter":"datum.panel=='c'"}],"mark":"rule","encoding":{"x":{"field":"day","type":"ordinal"},"xOffset":{"field":"group","type":"nominal","scale":{"domain":["n-3 Adq","n-3 Def"],"paddingInner":0,"paddingOuter":1.5}},"y":{"field":"bottom","type":"quantitative"},"y2":{"field":"top"}}},
{"data":{"name":"brackets"},"transform":[{"filter":"datum.panel=='c'"}],"mark":"line","encoding":{"x":{"field":"day","type":"ordinal"},"xOffset":{"field":"group","type":"nominal","scale":{"domain":["n-3 Adq","n-3 Def"],"paddingInner":0,"paddingOuter":1.5}},"y":{"field":"top","type":"quantitative"}}},
{"data":{"name":"brackets"},"transform":[{"filter":"datum.panel=='c'&&datum.group=='n-3 Adq'"}],"mark":"text","encoding":{"x":{"field":"day","type":"ordinal"},"y":{"field":"top","type":"quantitative"},"text":{"value":"**"}}}
]},
{"width":162,"height":107,"title":{"text":"d","anchor":"start","font":"Liberation Sans","fontSize":19,"fontWeight":"bold","offset":-15,"dx":-3},"resolve":{"scale":{"xOffset":"independent"}},"layer":[
{"data":{"name":"bars"},"transform":[{"filter":"datum.panel=='d'&&datum.day>0"}],"mark":"bar","encoding":{"x":{"field":"day","type":"ordinal","scale":{"domain":[0,2,4],"paddingInner":0.107,"paddingOuter":0},"axis":{"title":"Days after supplementation"}},"xOffset":{"field":"group","type":"nominal","scale":{"domain":["n-3 Adq","n-3 Def","DHA-PC","DHA-TG+PC","DHA-TG+α -GPC"],"paddingInner":0,"paddingOuter":0}},"y":{"field":"mean","type":"quantitative","scale":{"domain":[0,2],"nice":false},"axis":{"title":"DTA, % of total fatty acid","values":[0,0.5,1,1.5,2],"format":".1f"}},"fill":{"condition":{"test":"datum.group=='n-3 Def'","value":"black"},"value":"white"}}},
{"data":{"name":"bars"},"transform":[{"filter":"datum.panel=='d'&&(datum.group=='DHA-PC'||datum.group=='DHA-TG+α -GPC')"}],"mark":{"type":"bar","fill":{"gradient":"linear","x1":0,"y1":0,"x2":0,"y2":1,"stops":[{"offset":0,"color":"transparent"},{"offset":0.0375,"color":"transparent"},{"offset":0.0375,"color":"black"},{"offset":0.0625,"color":"black"},{"offset":0.0625,"color":"transparent"},{"offset":0.1,"color":"transparent"},{"offset":0.1,"color":"black"},{"offset":0.125,"color":"black"},{"offset":0.125,"color":"transparent"},{"offset":0.1625,"color":"transparent"},{"offset":0.1625,"color":"black"},{"offset":0.1875,"color":"black"},{"offset":0.1875,"color":"transparent"},{"offset":0.225,"color":"transparent"},{"offset":0.225,"color":"black"},{"offset":0.25,"color":"black"},{"offset":0.25,"color":"transparent"},{"offset":0.2875,"color":"transparent"},{"offset":0.2875,"color":"black"},{"offset":0.3125,"color":"black"},{"offset":0.3125,"color":"transparent"},{"offset":0.35,"color":"transparent"},{"offset":0.35,"color":"black"},{"offset":0.375,"color":"black"},{"offset":0.375,"color":"transparent"},{"offset":0.4125,"color":"transparent"},{"offset":0.4125,"color":"black"},{"offset":0.4375,"color":"black"},{"offset":0.4375,"color":"transparent"},{"offset":0.475,"color":"transparent"},{"offset":0.475,"color":"black"},{"offset":0.5,"color":"black"},{"offset":0.5,"color":"transparent"},{"offset":0.5375,"color":"transparent"},{"offset":0.5375,"color":"black"},{"offset":0.5625,"color":"black"},{"offset":0.5625,"color":"transparent"},{"offset":0.6,"color":"transparent"},{"offset":0.6,"color":"black"},{"offset":0.625,"color":"black"},{"offset":0.625,"color":"transparent"},{"offset":0.6625,"color":"transparent"},{"offset":0.6625,"color":"black"},{"offset":0.6875,"color":"black"},{"offset":0.6875,"color":"transparent"},{"offset":0.725,"color":"transparent"},{"offset":0.725,"color":"black"},{"offset":0.75,"color":"black"},{"offset":0.75,"color":"transparent"},{"offset":0.7875,"color":"transparent"},{"offset":0.7875,"color":"black"},{"offset":0.8125,"color":"black"},{"offset":0.8125,"color":"transparent"},{"offset":0.85,"color":"transparent"},{"offset":0.85,"color":"black"},{"offset":0.875,"color":"black"},{"offset":0.875,"color":"transparent"},{"offset":0.9125,"color":"transparent"},{"offset":0.9125,"color":"black"},{"offset":0.9375,"color":"black"},{"offset":0.9375,"color":"transparent"},{"offset":0.975,"color":"transparent"},{"offset":0.975,"color":"black"},{"offset":1,"color":"black"}]}},"encoding":{"x":{"field":"day","type":"ordinal"},"xOffset":{"field":"group","type":"nominal","scale":{"domain":["n-3 Adq","n-3 Def","DHA-PC","DHA-TG+PC","DHA-TG+α -GPC"],"paddingInner":0,"paddingOuter":0}},"y":{"field":"mean","type":"quantitative"}}},
{"data":{"name":"bars"},"transform":[{"filter":"datum.panel=='d'&&(datum.group=='DHA-TG+PC'||datum.group=='DHA-TG+α -GPC')"}],"mark":{"type":"bar","fill":{"gradient":"linear","x1":0,"y1":0,"x2":1,"y2":0,"stops":[{"offset":0,"color":"transparent"},{"offset":0.2,"color":"transparent"},{"offset":0.2,"color":"black"},{"offset":0.3,"color":"black"},{"offset":0.3,"color":"transparent"},{"offset":0.45,"color":"transparent"},{"offset":0.45,"color":"black"},{"offset":0.55,"color":"black"},{"offset":0.55,"color":"transparent"},{"offset":0.7,"color":"transparent"},{"offset":0.7,"color":"black"},{"offset":0.8,"color":"black"},{"offset":0.8,"color":"transparent"},{"offset":1,"color":"transparent"}]}},"encoding":{"x":{"field":"day","type":"ordinal"},"xOffset":{"field":"group","type":"nominal","scale":{"domain":["n-3 Adq","n-3 Def","DHA-PC","DHA-TG+PC","DHA-TG+α -GPC"],"paddingInner":0,"paddingOuter":0}},"y":{"field":"mean","type":"quantitative"}}},
{"data":{"name":"bars"},"transform":[{"filter":"datum.panel=='d'&&datum.day>0"}],"mark":"rule","encoding":{"x":{"field":"day","type":"ordinal"},"xOffset":{"field":"group","type":"nominal","scale":{"domain":["n-3 Adq","n-3 Def","DHA-PC","DHA-TG+PC","DHA-TG+α -GPC"],"paddingInner":0,"paddingOuter":0}},"y":{"field":"mean","type":"quantitative"},"y2":{"field":"upper"}}},
{"data":{"name":"bars"},"transform":[{"filter":"datum.panel=='d'&&datum.day>0"}],"mark":"tick","encoding":{"x":{"field":"day","type":"ordinal"},"xOffset":{"field":"group","type":"nominal","scale":{"domain":["n-3 Adq","n-3 Def","DHA-PC","DHA-TG+PC","DHA-TG+α -GPC"],"paddingInner":0,"paddingOuter":0}},"y":{"field":"upper","type":"quantitative"}}},
{"data":{"name":"bars"},"transform":[{"filter":"datum.panel=='d'&&datum.day>0"}],"mark":"text","encoding":{"x":{"field":"day","type":"ordinal"},"xOffset":{"field":"group","type":"nominal","scale":{"domain":["n-3 Adq","n-3 Def","DHA-PC","DHA-TG+PC","DHA-TG+α -GPC"],"paddingInner":0,"paddingOuter":0}},"y":{"field":"upper","type":"quantitative"},"text":{"field":"letter"}}},
{"data":{"name":"bars"},"transform":[{"filter":"datum.panel=='d'&&datum.day==0"}],"mark":"bar","encoding":{"x":{"field":"day","type":"ordinal"},"xOffset":{"field":"group","type":"nominal","scale":{"domain":["n-3 Adq","n-3 Def"],"paddingInner":0,"paddingOuter":1.5}},"y":{"field":"mean","type":"quantitative"},"fill":{"condition":{"test":"datum.group=='n-3 Def'","value":"black"},"value":"white"}}},
{"data":{"name":"bars"},"transform":[{"filter":"datum.panel=='d'&&datum.day==0"}],"mark":"rule","encoding":{"x":{"field":"day","type":"ordinal"},"xOffset":{"field":"group","type":"nominal","scale":{"domain":["n-3 Adq","n-3 Def"],"paddingInner":0,"paddingOuter":1.5}},"y":{"field":"mean","type":"quantitative"},"y2":{"field":"upper"}}},
{"data":{"name":"bars"},"transform":[{"filter":"datum.panel=='d'&&datum.day==0"}],"mark":"tick","encoding":{"x":{"field":"day","type":"ordinal"},"xOffset":{"field":"group","type":"nominal","scale":{"domain":["n-3 Adq","n-3 Def"],"paddingInner":0,"paddingOuter":1.5}},"y":{"field":"upper","type":"quantitative"}}},
{"data":{"name":"brackets"},"transform":[{"filter":"datum.panel=='d'"}],"mark":"rule","encoding":{"x":{"field":"day","type":"ordinal"},"xOffset":{"field":"group","type":"nominal","scale":{"domain":["n-3 Adq","n-3 Def"],"paddingInner":0,"paddingOuter":1.5}},"y":{"field":"bottom","type":"quantitative"},"y2":{"field":"top"}}},
{"data":{"name":"brackets"},"transform":[{"filter":"datum.panel=='d'"}],"mark":"line","encoding":{"x":{"field":"day","type":"ordinal"},"xOffset":{"field":"group","type":"nominal","scale":{"domain":["n-3 Adq","n-3 Def"],"paddingInner":0,"paddingOuter":1.5}},"y":{"field":"top","type":"quantitative"}}},
{"data":{"name":"brackets"},"transform":[{"filter":"datum.panel=='d'&&datum.group=='n-3 Adq'"}],"mark":"text","encoding":{"x":{"field":"day","type":"ordinal"},"y":{"field":"top","type":"quantitative"},"text":{"value":"**"}}}
]}
]},
{"title":{"text":["","Hepatic Triacylglycerol"],"lineHeight":12,"anchor":"middle","offset":7,"dx":4},"spacing":85,"hconcat":[
{"width":162,"height":112,"title":{"text":"e","anchor":"start","font":"Liberation Sans","fontSize":19,"fontWeight":"bold","offset":-5,"dx":-3},"resolve":{"scale":{"xOffset":"independent"}},"layer":[
{"data":{"name":"bars"},"transform":[{"filter":"datum.panel=='e'&&datum.day>0"}],"mark":"bar","encoding":{"x":{"field":"day","type":"ordinal","scale":{"domain":[0,2,4],"paddingInner":0.107,"paddingOuter":0},"axis":{"title":"Days after supplementation"}},"xOffset":{"field":"group","type":"nominal","scale":{"domain":["n-3 Adq","n-3 Def","DHA-PC","DHA-TG+PC","DHA-TG+α -GPC"],"paddingInner":0,"paddingOuter":0}},"y":{"field":"mean","type":"quantitative","scale":{"domain":[0,4],"nice":false},"axis":{"title":"DHA, % of total fatty acid","values":[0,1,2,3,4],"titlePadding":6}},"fill":{"condition":{"test":"datum.group=='n-3 Def'","value":"black"},"value":"white"}}},
{"data":{"name":"bars"},"transform":[{"filter":"datum.panel=='e'&&(datum.group=='DHA-PC'||datum.group=='DHA-TG+α -GPC')"}],"mark":{"type":"bar","fill":{"gradient":"linear","x1":0,"y1":0,"x2":0,"y2":1,"stops":[{"offset":0,"color":"transparent"},{"offset":0.0375,"color":"transparent"},{"offset":0.0375,"color":"black"},{"offset":0.0625,"color":"black"},{"offset":0.0625,"color":"transparent"},{"offset":0.1,"color":"transparent"},{"offset":0.1,"color":"black"},{"offset":0.125,"color":"black"},{"offset":0.125,"color":"transparent"},{"offset":0.1625,"color":"transparent"},{"offset":0.1625,"color":"black"},{"offset":0.1875,"color":"black"},{"offset":0.1875,"color":"transparent"},{"offset":0.225,"color":"transparent"},{"offset":0.225,"color":"black"},{"offset":0.25,"color":"black"},{"offset":0.25,"color":"transparent"},{"offset":0.2875,"color":"transparent"},{"offset":0.2875,"color":"black"},{"offset":0.3125,"color":"black"},{"offset":0.3125,"color":"transparent"},{"offset":0.35,"color":"transparent"},{"offset":0.35,"color":"black"},{"offset":0.375,"color":"black"},{"offset":0.375,"color":"transparent"},{"offset":0.4125,"color":"transparent"},{"offset":0.4125,"color":"black"},{"offset":0.4375,"color":"black"},{"offset":0.4375,"color":"transparent"},{"offset":0.475,"color":"transparent"},{"offset":0.475,"color":"black"},{"offset":0.5,"color":"black"},{"offset":0.5,"color":"transparent"},{"offset":0.5375,"color":"transparent"},{"offset":0.5375,"color":"black"},{"offset":0.5625,"color":"black"},{"offset":0.5625,"color":"transparent"},{"offset":0.6,"color":"transparent"},{"offset":0.6,"color":"black"},{"offset":0.625,"color":"black"},{"offset":0.625,"color":"transparent"},{"offset":0.6625,"color":"transparent"},{"offset":0.6625,"color":"black"},{"offset":0.6875,"color":"black"},{"offset":0.6875,"color":"transparent"},{"offset":0.725,"color":"transparent"},{"offset":0.725,"color":"black"},{"offset":0.75,"color":"black"},{"offset":0.75,"color":"transparent"},{"offset":0.7875,"color":"transparent"},{"offset":0.7875,"color":"black"},{"offset":0.8125,"color":"black"},{"offset":0.8125,"color":"transparent"},{"offset":0.85,"color":"transparent"},{"offset":0.85,"color":"black"},{"offset":0.875,"color":"black"},{"offset":0.875,"color":"transparent"},{"offset":0.9125,"color":"transparent"},{"offset":0.9125,"color":"black"},{"offset":0.9375,"color":"black"},{"offset":0.9375,"color":"transparent"},{"offset":0.975,"color":"transparent"},{"offset":0.975,"color":"black"},{"offset":1,"color":"black"}]}},"encoding":{"x":{"field":"day","type":"ordinal"},"xOffset":{"field":"group","type":"nominal","scale":{"domain":["n-3 Adq","n-3 Def","DHA-PC","DHA-TG+PC","DHA-TG+α -GPC"],"paddingInner":0,"paddingOuter":0}},"y":{"field":"mean","type":"quantitative"}}},
{"data":{"name":"bars"},"transform":[{"filter":"datum.panel=='e'&&(datum.group=='DHA-TG+PC'||datum.group=='DHA-TG+α -GPC')"}],"mark":{"type":"bar","fill":{"gradient":"linear","x1":0,"y1":0,"x2":1,"y2":0,"stops":[{"offset":0,"color":"transparent"},{"offset":0.2,"color":"transparent"},{"offset":0.2,"color":"black"},{"offset":0.3,"color":"black"},{"offset":0.3,"color":"transparent"},{"offset":0.45,"color":"transparent"},{"offset":0.45,"color":"black"},{"offset":0.55,"color":"black"},{"offset":0.55,"color":"transparent"},{"offset":0.7,"color":"transparent"},{"offset":0.7,"color":"black"},{"offset":0.8,"color":"black"},{"offset":0.8,"color":"transparent"},{"offset":1,"color":"transparent"}]}},"encoding":{"x":{"field":"day","type":"ordinal"},"xOffset":{"field":"group","type":"nominal","scale":{"domain":["n-3 Adq","n-3 Def","DHA-PC","DHA-TG+PC","DHA-TG+α -GPC"],"paddingInner":0,"paddingOuter":0}},"y":{"field":"mean","type":"quantitative"}}},
{"data":{"name":"bars"},"transform":[{"filter":"datum.panel=='e'&&datum.day>0"}],"mark":"rule","encoding":{"x":{"field":"day","type":"ordinal"},"xOffset":{"field":"group","type":"nominal","scale":{"domain":["n-3 Adq","n-3 Def","DHA-PC","DHA-TG+PC","DHA-TG+α -GPC"],"paddingInner":0,"paddingOuter":0}},"y":{"field":"mean","type":"quantitative"},"y2":{"field":"upper"}}},
{"data":{"name":"bars"},"transform":[{"filter":"datum.panel=='e'&&datum.day>0"}],"mark":"tick","encoding":{"x":{"field":"day","type":"ordinal"},"xOffset":{"field":"group","type":"nominal","scale":{"domain":["n-3 Adq","n-3 Def","DHA-PC","DHA-TG+PC","DHA-TG+α -GPC"],"paddingInner":0,"paddingOuter":0}},"y":{"field":"upper","type":"quantitative"}}},
{"data":{"name":"bars"},"transform":[{"filter":"datum.panel=='e'&&datum.day>0"}],"mark":"text","encoding":{"x":{"field":"day","type":"ordinal"},"xOffset":{"field":"group","type":"nominal","scale":{"domain":["n-3 Adq","n-3 Def","DHA-PC","DHA-TG+PC","DHA-TG+α -GPC"],"paddingInner":0,"paddingOuter":0}},"y":{"field":"upper","type":"quantitative"},"text":{"field":"letter"}}},
{"data":{"name":"bars"},"transform":[{"filter":"datum.panel=='e'&&datum.day==0"}],"mark":"bar","encoding":{"x":{"field":"day","type":"ordinal"},"xOffset":{"field":"group","type":"nominal","scale":{"domain":["n-3 Adq","n-3 Def"],"paddingInner":0,"paddingOuter":1.5}},"y":{"field":"mean","type":"quantitative"},"fill":{"condition":{"test":"datum.group=='n-3 Def'","value":"black"},"value":"white"}}},
{"data":{"name":"bars"},"transform":[{"filter":"datum.panel=='e'&&datum.day==0"}],"mark":"rule","encoding":{"x":{"field":"day","type":"ordinal"},"xOffset":{"field":"group","type":"nominal","scale":{"domain":["n-3 Adq","n-3 Def"],"paddingInner":0,"paddingOuter":1.5}},"y":{"field":"mean","type":"quantitative"},"y2":{"field":"upper"}}},
{"data":{"name":"bars"},"transform":[{"filter":"datum.panel=='e'&&datum.day==0"}],"mark":"tick","encoding":{"x":{"field":"day","type":"ordinal"},"xOffset":{"field":"group","type":"nominal","scale":{"domain":["n-3 Adq","n-3 Def"],"paddingInner":0,"paddingOuter":1.5}},"y":{"field":"upper","type":"quantitative"}}},
{"data":{"name":"brackets"},"transform":[{"filter":"datum.panel=='e'"}],"mark":"rule","encoding":{"x":{"field":"day","type":"ordinal"},"xOffset":{"field":"group","type":"nominal","scale":{"domain":["n-3 Adq","n-3 Def"],"paddingInner":0,"paddingOuter":1.5}},"y":{"field":"bottom","type":"quantitative"},"y2":{"field":"top"}}},
{"data":{"name":"brackets"},"transform":[{"filter":"datum.panel=='e'"}],"mark":"line","encoding":{"x":{"field":"day","type":"ordinal"},"xOffset":{"field":"group","type":"nominal","scale":{"domain":["n-3 Adq","n-3 Def"],"paddingInner":0,"paddingOuter":1.5}},"y":{"field":"top","type":"quantitative"}}},
{"data":{"name":"brackets"},"transform":[{"filter":"datum.panel=='e'&&datum.group=='n-3 Adq'"}],"mark":"text","encoding":{"x":{"field":"day","type":"ordinal"},"y":{"field":"top","type":"quantitative"},"text":{"value":"**"}}}
]},
{"width":162,"height":114,"title":{"text":"f","anchor":"start","font":"Liberation Sans","fontSize":19,"fontWeight":"bold","offset":-6,"dx":-3},"resolve":{"scale":{"xOffset":"independent"}},"layer":[
{"data":{"name":"bars"},"transform":[{"filter":"datum.panel=='f'&&datum.day>0"}],"mark":"bar","encoding":{"x":{"field":"day","type":"ordinal","scale":{"domain":[0,2,4],"paddingInner":0.107,"paddingOuter":0},"axis":{"title":"Days after supplementation"}},"xOffset":{"field":"group","type":"nominal","scale":{"domain":["n-3 Adq","n-3 Def","DHA-PC","DHA-TG+PC","DHA-TG+α -GPC"],"paddingInner":0,"paddingOuter":0}},"y":{"field":"mean","type":"quantitative","scale":{"domain":[0,2.5],"nice":false},"axis":{"title":"DPA, % of total fatty acid","values":[0,0.5,1,1.5,2,2.5],"format":".1f"}},"fill":{"condition":{"test":"datum.group=='n-3 Def'","value":"black"},"value":"white"}}},
{"data":{"name":"bars"},"transform":[{"filter":"datum.panel=='f'&&(datum.group=='DHA-PC'||datum.group=='DHA-TG+α -GPC')"}],"mark":{"type":"bar","fill":{"gradient":"linear","x1":0,"y1":0,"x2":0,"y2":1,"stops":[{"offset":0,"color":"transparent"},{"offset":0.0375,"color":"transparent"},{"offset":0.0375,"color":"black"},{"offset":0.0625,"color":"black"},{"offset":0.0625,"color":"transparent"},{"offset":0.1,"color":"transparent"},{"offset":0.1,"color":"black"},{"offset":0.125,"color":"black"},{"offset":0.125,"color":"transparent"},{"offset":0.1625,"color":"transparent"},{"offset":0.1625,"color":"black"},{"offset":0.1875,"color":"black"},{"offset":0.1875,"color":"transparent"},{"offset":0.225,"color":"transparent"},{"offset":0.225,"color":"black"},{"offset":0.25,"color":"black"},{"offset":0.25,"color":"transparent"},{"offset":0.2875,"color":"transparent"},{"offset":0.2875,"color":"black"},{"offset":0.3125,"color":"black"},{"offset":0.3125,"color":"transparent"},{"offset":0.35,"color":"transparent"},{"offset":0.35,"color":"black"},{"offset":0.375,"color":"black"},{"offset":0.375,"color":"transparent"},{"offset":0.4125,"color":"transparent"},{"offset":0.4125,"color":"black"},{"offset":0.4375,"color":"black"},{"offset":0.4375,"color":"transparent"},{"offset":0.475,"color":"transparent"},{"offset":0.475,"color":"black"},{"offset":0.5,"color":"black"},{"offset":0.5,"color":"transparent"},{"offset":0.5375,"color":"transparent"},{"offset":0.5375,"color":"black"},{"offset":0.5625,"color":"black"},{"offset":0.5625,"color":"transparent"},{"offset":0.6,"color":"transparent"},{"offset":0.6,"color":"black"},{"offset":0.625,"color":"black"},{"offset":0.625,"color":"transparent"},{"offset":0.6625,"color":"transparent"},{"offset":0.6625,"color":"black"},{"offset":0.6875,"color":"black"},{"offset":0.6875,"color":"transparent"},{"offset":0.725,"color":"transparent"},{"offset":0.725,"color":"black"},{"offset":0.75,"color":"black"},{"offset":0.75,"color":"transparent"},{"offset":0.7875,"color":"transparent"},{"offset":0.7875,"color":"black"},{"offset":0.8125,"color":"black"},{"offset":0.8125,"color":"transparent"},{"offset":0.85,"color":"transparent"},{"offset":0.85,"color":"black"},{"offset":0.875,"color":"black"},{"offset":0.875,"color":"transparent"},{"offset":0.9125,"color":"transparent"},{"offset":0.9125,"color":"black"},{"offset":0.9375,"color":"black"},{"offset":0.9375,"color":"transparent"},{"offset":0.975,"color":"transparent"},{"offset":0.975,"color":"black"},{"offset":1,"color":"black"}]}},"encoding":{"x":{"field":"day","type":"ordinal"},"xOffset":{"field":"group","type":"nominal","scale":{"domain":["n-3 Adq","n-3 Def","DHA-PC","DHA-TG+PC","DHA-TG+α -GPC"],"paddingInner":0,"paddingOuter":0}},"y":{"field":"mean","type":"quantitative"}}},
{"data":{"name":"bars"},"transform":[{"filter":"datum.panel=='f'&&(datum.group=='DHA-TG+PC'||datum.group=='DHA-TG+α -GPC')"}],"mark":{"type":"bar","fill":{"gradient":"linear","x1":0,"y1":0,"x2":1,"y2":0,"stops":[{"offset":0,"color":"transparent"},{"offset":0.2,"color":"transparent"},{"offset":0.2,"color":"black"},{"offset":0.3,"color":"black"},{"offset":0.3,"color":"transparent"},{"offset":0.45,"color":"transparent"},{"offset":0.45,"color":"black"},{"offset":0.55,"color":"black"},{"offset":0.55,"color":"transparent"},{"offset":0.7,"color":"transparent"},{"offset":0.7,"color":"black"},{"offset":0.8,"color":"black"},{"offset":0.8,"color":"transparent"},{"offset":1,"color":"transparent"}]}},"encoding":{"x":{"field":"day","type":"ordinal"},"xOffset":{"field":"group","type":"nominal","scale":{"domain":["n-3 Adq","n-3 Def","DHA-PC","DHA-TG+PC","DHA-TG+α -GPC"],"paddingInner":0,"paddingOuter":0}},"y":{"field":"mean","type":"quantitative"}}},
{"data":{"name":"bars"},"transform":[{"filter":"datum.panel=='f'&&datum.day>0"}],"mark":"rule","encoding":{"x":{"field":"day","type":"ordinal"},"xOffset":{"field":"group","type":"nominal","scale":{"domain":["n-3 Adq","n-3 Def","DHA-PC","DHA-TG+PC","DHA-TG+α -GPC"],"paddingInner":0,"paddingOuter":0}},"y":{"field":"mean","type":"quantitative"},"y2":{"field":"upper"}}},
{"data":{"name":"bars"},"transform":[{"filter":"datum.panel=='f'&&datum.day>0"}],"mark":"tick","encoding":{"x":{"field":"day","type":"ordinal"},"xOffset":{"field":"group","type":"nominal","scale":{"domain":["n-3 Adq","n-3 Def","DHA-PC","DHA-TG+PC","DHA-TG+α -GPC"],"paddingInner":0,"paddingOuter":0}},"y":{"field":"upper","type":"quantitative"}}},
{"data":{"name":"bars"},"transform":[{"filter":"datum.panel=='f'&&datum.day>0"}],"mark":"text","encoding":{"x":{"field":"day","type":"ordinal"},"xOffset":{"field":"group","type":"nominal","scale":{"domain":["n-3 Adq","n-3 Def","DHA-PC","DHA-TG+PC","DHA-TG+α -GPC"],"paddingInner":0,"paddingOuter":0}},"y":{"field":"upper","type":"quantitative"},"text":{"field":"letter"}}},
{"data":{"name":"bars"},"transform":[{"filter":"datum.panel=='f'&&datum.day==0"}],"mark":"bar","encoding":{"x":{"field":"day","type":"ordinal"},"xOffset":{"field":"group","type":"nominal","scale":{"domain":["n-3 Adq","n-3 Def"],"paddingInner":0,"paddingOuter":1.5}},"y":{"field":"mean","type":"quantitative"},"fill":{"condition":{"test":"datum.group=='n-3 Def'","value":"black"},"value":"white"}}},
{"data":{"name":"bars"},"transform":[{"filter":"datum.panel=='f'&&datum.day==0"}],"mark":"rule","encoding":{"x":{"field":"day","type":"ordinal"},"xOffset":{"field":"group","type":"nominal","scale":{"domain":["n-3 Adq","n-3 Def"],"paddingInner":0,"paddingOuter":1.5}},"y":{"field":"mean","type":"quantitative"},"y2":{"field":"upper"}}},
{"data":{"name":"bars"},"transform":[{"filter":"datum.panel=='f'&&datum.day==0"}],"mark":"tick","encoding":{"x":{"field":"day","type":"ordinal"},"xOffset":{"field":"group","type":"nominal","scale":{"domain":["n-3 Adq","n-3 Def"],"paddingInner":0,"paddingOuter":1.5}},"y":{"field":"upper","type":"quantitative"}}},
{"data":{"name":"brackets"},"transform":[{"filter":"datum.panel=='f'"}],"mark":"rule","encoding":{"x":{"field":"day","type":"ordinal"},"xOffset":{"field":"group","type":"nominal","scale":{"domain":["n-3 Adq","n-3 Def"],"paddingInner":0,"paddingOuter":1.5}},"y":{"field":"bottom","type":"quantitative"},"y2":{"field":"top"}}},
{"data":{"name":"brackets"},"transform":[{"filter":"datum.panel=='f'"}],"mark":"line","encoding":{"x":{"field":"day","type":"ordinal"},"xOffset":{"field":"group","type":"nominal","scale":{"domain":["n-3 Adq","n-3 Def"],"paddingInner":0,"paddingOuter":1.5}},"y":{"field":"top","type":"quantitative"}}},
{"data":{"name":"brackets"},"transform":[{"filter":"datum.panel=='f'&&datum.group=='n-3 Adq'"}],"mark":"text","encoding":{"x":{"field":"day","type":"ordinal"},"y":{"field":"top","type":"quantitative"},"text":{"value":"**"}}}
]}
]},
{"spacing":85,"hconcat":[
{"width":162,"height":111,"title":{"text":"g","anchor":"start","font":"Liberation Sans","fontSize":19,"fontWeight":"bold","offset":-3,"dx":-3},"resolve":{"scale":{"xOffset":"independent"}},"layer":[
{"data":{"name":"bars"},"transform":[{"filter":"datum.panel=='g'&&datum.day>0"}],"mark":"bar","encoding":{"x":{"field":"day","type":"ordinal","scale":{"domain":[0,2,4],"paddingInner":0.107,"paddingOuter":0},"axis":{"title":"Days after supplementation"}},"xOffset":{"field":"group","type":"nominal","scale":{"domain":["n-3 Adq","n-3 Def","DHA-PC","DHA-TG+PC","DHA-TG+α -GPC"],"paddingInner":0,"paddingOuter":0}},"y":{"field":"mean","type":"quantitative","scale":{"domain":[0,4],"nice":false},"axis":{"title":"AA, % of total fatty acid","values":[0,1,2,3,4],"titlePadding":6}},"fill":{"condition":{"test":"datum.group=='n-3 Def'","value":"black"},"value":"white"}}},
{"data":{"name":"bars"},"transform":[{"filter":"datum.panel=='g'&&(datum.group=='DHA-PC'||datum.group=='DHA-TG+α -GPC')"}],"mark":{"type":"bar","fill":{"gradient":"linear","x1":0,"y1":0,"x2":0,"y2":1,"stops":[{"offset":0,"color":"transparent"},{"offset":0.0375,"color":"transparent"},{"offset":0.0375,"color":"black"},{"offset":0.0625,"color":"black"},{"offset":0.0625,"color":"transparent"},{"offset":0.1,"color":"transparent"},{"offset":0.1,"color":"black"},{"offset":0.125,"color":"black"},{"offset":0.125,"color":"transparent"},{"offset":0.1625,"color":"transparent"},{"offset":0.1625,"color":"black"},{"offset":0.1875,"color":"black"},{"offset":0.1875,"color":"transparent"},{"offset":0.225,"color":"transparent"},{"offset":0.225,"color":"black"},{"offset":0.25,"color":"black"},{"offset":0.25,"color":"transparent"},{"offset":0.2875,"color":"transparent"},{"offset":0.2875,"color":"black"},{"offset":0.3125,"color":"black"},{"offset":0.3125,"color":"transparent"},{"offset":0.35,"color":"transparent"},{"offset":0.35,"color":"black"},{"offset":0.375,"color":"black"},{"offset":0.375,"color":"transparent"},{"offset":0.4125,"color":"transparent"},{"offset":0.4125,"color":"black"},{"offset":0.4375,"color":"black"},{"offset":0.4375,"color":"transparent"},{"offset":0.475,"color":"transparent"},{"offset":0.475,"color":"black"},{"offset":0.5,"color":"black"},{"offset":0.5,"color":"transparent"},{"offset":0.5375,"color":"transparent"},{"offset":0.5375,"color":"black"},{"offset":0.5625,"color":"black"},{"offset":0.5625,"color":"transparent"},{"offset":0.6,"color":"transparent"},{"offset":0.6,"color":"black"},{"offset":0.625,"color":"black"},{"offset":0.625,"color":"transparent"},{"offset":0.6625,"color":"transparent"},{"offset":0.6625,"color":"black"},{"offset":0.6875,"color":"black"},{"offset":0.6875,"color":"transparent"},{"offset":0.725,"color":"transparent"},{"offset":0.725,"color":"black"},{"offset":0.75,"color":"black"},{"offset":0.75,"color":"transparent"},{"offset":0.7875,"color":"transparent"},{"offset":0.7875,"color":"black"},{"offset":0.8125,"color":"black"},{"offset":0.8125,"color":"transparent"},{"offset":0.85,"color":"transparent"},{"offset":0.85,"color":"black"},{"offset":0.875,"color":"black"},{"offset":0.875,"color":"transparent"},{"offset":0.9125,"color":"transparent"},{"offset":0.9125,"color":"black"},{"offset":0.9375,"color":"black"},{"offset":0.9375,"color":"transparent"},{"offset":0.975,"color":"transparent"},{"offset":0.975,"color":"black"},{"offset":1,"color":"black"}]}},"encoding":{"x":{"field":"day","type":"ordinal"},"xOffset":{"field":"group","type":"nominal","scale":{"domain":["n-3 Adq","n-3 Def","DHA-PC","DHA-TG+PC","DHA-TG+α -GPC"],"paddingInner":0,"paddingOuter":0}},"y":{"field":"mean","type":"quantitative"}}},
{"data":{"name":"bars"},"transform":[{"filter":"datum.panel=='g'&&(datum.group=='DHA-TG+PC'||datum.group=='DHA-TG+α -GPC')"}],"mark":{"type":"bar","fill":{"gradient":"linear","x1":0,"y1":0,"x2":1,"y2":0,"stops":[{"offset":0,"color":"transparent"},{"offset":0.2,"color":"transparent"},{"offset":0.2,"color":"black"},{"offset":0.3,"color":"black"},{"offset":0.3,"color":"transparent"},{"offset":0.45,"color":"transparent"},{"offset":0.45,"color":"black"},{"offset":0.55,"color":"black"},{"offset":0.55,"color":"transparent"},{"offset":0.7,"color":"transparent"},{"offset":0.7,"color":"black"},{"offset":0.8,"color":"black"},{"offset":0.8,"color":"transparent"},{"offset":1,"color":"transparent"}]}},"encoding":{"x":{"field":"day","type":"ordinal"},"xOffset":{"field":"group","type":"nominal","scale":{"domain":["n-3 Adq","n-3 Def","DHA-PC","DHA-TG+PC","DHA-TG+α -GPC"],"paddingInner":0,"paddingOuter":0}},"y":{"field":"mean","type":"quantitative"}}},
{"data":{"name":"bars"},"transform":[{"filter":"datum.panel=='g'&&datum.day>0"}],"mark":"rule","encoding":{"x":{"field":"day","type":"ordinal"},"xOffset":{"field":"group","type":"nominal","scale":{"domain":["n-3 Adq","n-3 Def","DHA-PC","DHA-TG+PC","DHA-TG+α -GPC"],"paddingInner":0,"paddingOuter":0}},"y":{"field":"mean","type":"quantitative"},"y2":{"field":"upper"}}},
{"data":{"name":"bars"},"transform":[{"filter":"datum.panel=='g'&&datum.day>0"}],"mark":"tick","encoding":{"x":{"field":"day","type":"ordinal"},"xOffset":{"field":"group","type":"nominal","scale":{"domain":["n-3 Adq","n-3 Def","DHA-PC","DHA-TG+PC","DHA-TG+α -GPC"],"paddingInner":0,"paddingOuter":0}},"y":{"field":"upper","type":"quantitative"}}},
{"data":{"name":"bars"},"transform":[{"filter":"datum.panel=='g'&&datum.day>0"}],"mark":"text","encoding":{"x":{"field":"day","type":"ordinal"},"xOffset":{"field":"group","type":"nominal","scale":{"domain":["n-3 Adq","n-3 Def","DHA-PC","DHA-TG+PC","DHA-TG+α -GPC"],"paddingInner":0,"paddingOuter":0}},"y":{"field":"upper","type":"quantitative"},"text":{"field":"letter"}}},
{"data":{"name":"bars"},"transform":[{"filter":"datum.panel=='g'&&datum.day==0"}],"mark":"bar","encoding":{"x":{"field":"day","type":"ordinal"},"xOffset":{"field":"group","type":"nominal","scale":{"domain":["n-3 Adq","n-3 Def"],"paddingInner":0,"paddingOuter":1.5}},"y":{"field":"mean","type":"quantitative"},"fill":{"condition":{"test":"datum.group=='n-3 Def'","value":"black"},"value":"white"}}},
{"data":{"name":"bars"},"transform":[{"filter":"datum.panel=='g'&&datum.day==0"}],"mark":"rule","encoding":{"x":{"field":"day","type":"ordinal"},"xOffset":{"field":"group","type":"nominal","scale":{"domain":["n-3 Adq","n-3 Def"],"paddingInner":0,"paddingOuter":1.5}},"y":{"field":"mean","type":"quantitative"},"y2":{"field":"upper"}}},
{"data":{"name":"bars"},"transform":[{"filter":"datum.panel=='g'&&datum.day==0"}],"mark":"tick","encoding":{"x":{"field":"day","type":"ordinal"},"xOffset":{"field":"group","type":"nominal","scale":{"domain":["n-3 Adq","n-3 Def"],"paddingInner":0,"paddingOuter":1.5}},"y":{"field":"upper","type":"quantitative"}}},
{"data":{"name":"brackets"},"transform":[{"filter":"datum.panel=='g'"}],"mark":"rule","encoding":{"x":{"field":"day","type":"ordinal"},"xOffset":{"field":"group","type":"nominal","scale":{"domain":["n-3 Adq","n-3 Def"],"paddingInner":0,"paddingOuter":1.5}},"y":{"field":"bottom","type":"quantitative"},"y2":{"field":"top"}}},
{"data":{"name":"brackets"},"transform":[{"filter":"datum.panel=='g'"}],"mark":"line","encoding":{"x":{"field":"day","type":"ordinal"},"xOffset":{"field":"group","type":"nominal","scale":{"domain":["n-3 Adq","n-3 Def"],"paddingInner":0,"paddingOuter":1.5}},"y":{"field":"top","type":"quantitative"}}},
{"data":{"name":"brackets"},"transform":[{"filter":"datum.panel=='g'&&datum.group=='n-3 Adq'"}],"mark":"text","encoding":{"x":{"field":"day","type":"ordinal"},"y":{"field":"top","type":"quantitative"},"text":{"value":"**"}}}
]},
{"width":162,"height":113,"title":{"text":"h","anchor":"start","font":"Liberation Sans","fontSize":19,"fontWeight":"bold","offset":-7,"dx":-3},"resolve":{"scale":{"xOffset":"independent"}},"layer":[
{"data":{"name":"bars"},"transform":[{"filter":"datum.panel=='h'&&datum.day>0"}],"mark":"bar","encoding":{"x":{"field":"day","type":"ordinal","scale":{"domain":[0,2,4],"paddingInner":0.107,"paddingOuter":0},"axis":{"title":"Days after supplementation"}},"xOffset":{"field":"group","type":"nominal","scale":{"domain":["n-3 Adq","n-3 Def","DHA-PC","DHA-TG+PC","DHA-TG+α -GPC"],"paddingInner":0,"paddingOuter":0}},"y":{"field":"mean","type":"quantitative","scale":{"domain":[0,3],"nice":false},"axis":{"title":"DTA, % of total fatty acid","values":[0,1,2,3]}},"fill":{"condition":{"test":"datum.group=='n-3 Def'","value":"black"},"value":"white"}}},
{"data":{"name":"bars"},"transform":[{"filter":"datum.panel=='h'&&(datum.group=='DHA-PC'||datum.group=='DHA-TG+α -GPC')"}],"mark":{"type":"bar","fill":{"gradient":"linear","x1":0,"y1":0,"x2":0,"y2":1,"stops":[{"offset":0,"color":"transparent"},{"offset":0.0375,"color":"transparent"},{"offset":0.0375,"color":"black"},{"offset":0.0625,"color":"black"},{"offset":0.0625,"color":"transparent"},{"offset":0.1,"color":"transparent"},{"offset":0.1,"color":"black"},{"offset":0.125,"color":"black"},{"offset":0.125,"color":"transparent"},{"offset":0.1625,"color":"transparent"},{"offset":0.1625,"color":"black"},{"offset":0.1875,"color":"black"},{"offset":0.1875,"color":"transparent"},{"offset":0.225,"color":"transparent"},{"offset":0.225,"color":"black"},{"offset":0.25,"color":"black"},{"offset":0.25,"color":"transparent"},{"offset":0.2875,"color":"transparent"},{"offset":0.2875,"color":"black"},{"offset":0.3125,"color":"black"},{"offset":0.3125,"color":"transparent"},{"offset":0.35,"color":"transparent"},{"offset":0.35,"color":"black"},{"offset":0.375,"color":"black"},{"offset":0.375,"color":"transparent"},{"offset":0.4125,"color":"transparent"},{"offset":0.4125,"color":"black"},{"offset":0.4375,"color":"black"},{"offset":0.4375,"color":"transparent"},{"offset":0.475,"color":"transparent"},{"offset":0.475,"color":"black"},{"offset":0.5,"color":"black"},{"offset":0.5,"color":"transparent"},{"offset":0.5375,"color":"transparent"},{"offset":0.5375,"color":"black"},{"offset":0.5625,"color":"black"},{"offset":0.5625,"color":"transparent"},{"offset":0.6,"color":"transparent"},{"offset":0.6,"color":"black"},{"offset":0.625,"color":"black"},{"offset":0.625,"color":"transparent"},{"offset":0.6625,"color":"transparent"},{"offset":0.6625,"color":"black"},{"offset":0.6875,"color":"black"},{"offset":0.6875,"color":"transparent"},{"offset":0.725,"color":"transparent"},{"offset":0.725,"color":"black"},{"offset":0.75,"color":"black"},{"offset":0.75,"color":"transparent"},{"offset":0.7875,"color":"transparent"},{"offset":0.7875,"color":"black"},{"offset":0.8125,"color":"black"},{"offset":0.8125,"color":"transparent"},{"offset":0.85,"color":"transparent"},{"offset":0.85,"color":"black"},{"offset":0.875,"color":"black"},{"offset":0.875,"color":"transparent"},{"offset":0.9125,"color":"transparent"},{"offset":0.9125,"color":"black"},{"offset":0.9375,"color":"black"},{"offset":0.9375,"color":"transparent"},{"offset":0.975,"color":"transparent"},{"offset":0.975,"color":"black"},{"offset":1,"color":"black"}]}},"encoding":{"x":{"field":"day","type":"ordinal"},"xOffset":{"field":"group","type":"nominal","scale":{"domain":["n-3 Adq","n-3 Def","DHA-PC","DHA-TG+PC","DHA-TG+α -GPC"],"paddingInner":0,"paddingOuter":0}},"y":{"field":"mean","type":"quantitative"}}},
{"data":{"name":"bars"},"transform":[{"filter":"datum.panel=='h'&&(datum.group=='DHA-TG+PC'||datum.group=='DHA-TG+α -GPC')"}],"mark":{"type":"bar","fill":{"gradient":"linear","x1":0,"y1":0,"x2":1,"y2":0,"stops":[{"offset":0,"color":"transparent"},{"offset":0.2,"color":"transparent"},{"offset":0.2,"color":"black"},{"offset":0.3,"color":"black"},{"offset":0.3,"color":"transparent"},{"offset":0.45,"color":"transparent"},{"offset":0.45,"color":"black"},{"offset":0.55,"color":"black"},{"offset":0.55,"color":"transparent"},{"offset":0.7,"color":"transparent"},{"offset":0.7,"color":"black"},{"offset":0.8,"color":"black"},{"offset":0.8,"color":"transparent"},{"offset":1,"color":"transparent"}]}},"encoding":{"x":{"field":"day","type":"ordinal"},"xOffset":{"field":"group","type":"nominal","scale":{"domain":["n-3 Adq","n-3 Def","DHA-PC","DHA-TG+PC","DHA-TG+α -GPC"],"paddingInner":0,"paddingOuter":0}},"y":{"field":"mean","type":"quantitative"}}},
{"data":{"name":"bars"},"transform":[{"filter":"datum.panel=='h'&&datum.day>0"}],"mark":"rule","encoding":{"x":{"field":"day","type":"ordinal"},"xOffset":{"field":"group","type":"nominal","scale":{"domain":["n-3 Adq","n-3 Def","DHA-PC","DHA-TG+PC","DHA-TG+α -GPC"],"paddingInner":0,"paddingOuter":0}},"y":{"field":"mean","type":"quantitative"},"y2":{"field":"upper"}}},
{"data":{"name":"bars"},"transform":[{"filter":"datum.panel=='h'&&datum.day>0"}],"mark":"tick","encoding":{"x":{"field":"day","type":"ordinal"},"xOffset":{"field":"group","type":"nominal","scale":{"domain":["n-3 Adq","n-3 Def","DHA-PC","DHA-TG+PC","DHA-TG+α -GPC"],"paddingInner":0,"paddingOuter":0}},"y":{"field":"upper","type":"quantitative"}}},
{"data":{"name":"bars"},"transform":[{"filter":"datum.panel=='h'&&datum.day>0"}],"mark":"text","encoding":{"x":{"field":"day","type":"ordinal"},"xOffset":{"field":"group","type":"nominal","scale":{"domain":["n-3 Adq","n-3 Def","DHA-PC","DHA-TG+PC","DHA-TG+α -GPC"],"paddingInner":0,"paddingOuter":0}},"y":{"field":"upper","type":"quantitative"},"text":{"field":"letter"}}},
{"data":{"name":"bars"},"transform":[{"filter":"datum.panel=='h'&&datum.day==0"}],"mark":"bar","encoding":{"x":{"field":"day","type":"ordinal"},"xOffset":{"field":"group","type":"nominal","scale":{"domain":["n-3 Adq","n-3 Def"],"paddingInner":0,"paddingOuter":1.5}},"y":{"field":"mean","type":"quantitative"},"fill":{"condition":{"test":"datum.group=='n-3 Def'","value":"black"},"value":"white"}}},
{"data":{"name":"bars"},"transform":[{"filter":"datum.panel=='h'&&datum.day==0"}],"mark":"rule","encoding":{"x":{"field":"day","type":"ordinal"},"xOffset":{"field":"group","type":"nominal","scale":{"domain":["n-3 Adq","n-3 Def"],"paddingInner":0,"paddingOuter":1.5}},"y":{"field":"mean","type":"quantitative"},"y2":{"field":"upper"}}},
{"data":{"name":"bars"},"transform":[{"filter":"datum.panel=='h'&&datum.day==0"}],"mark":"tick","encoding":{"x":{"field":"day","type":"ordinal"},"xOffset":{"field":"group","type":"nominal","scale":{"domain":["n-3 Adq","n-3 Def"],"paddingInner":0,"paddingOuter":1.5}},"y":{"field":"upper","type":"quantitative"}}},
{"data":{"name":"brackets"},"transform":[{"filter":"datum.panel=='h'"}],"mark":"rule","encoding":{"x":{"field":"day","type":"ordinal"},"xOffset":{"field":"group","type":"nominal","scale":{"domain":["n-3 Adq","n-3 Def"],"paddingInner":0,"paddingOuter":1.5}},"y":{"field":"bottom","type":"quantitative"},"y2":{"field":"top"}}},
{"data":{"name":"brackets"},"transform":[{"filter":"datum.panel=='h'"}],"mark":"line","encoding":{"x":{"field":"day","type":"ordinal"},"xOffset":{"field":"group","type":"nominal","scale":{"domain":["n-3 Adq","n-3 Def"],"paddingInner":0,"paddingOuter":1.5}},"y":{"field":"top","type":"quantitative"}}},
{"data":{"name":"brackets"},"transform":[{"filter":"datum.panel=='h'&&datum.group=='n-3 Adq'"}],"mark":"text","encoding":{"x":{"field":"day","type":"ordinal"},"y":{"field":"top","type":"quantitative"},"text":{"value":"**"}}}
]}
]}
],
"config":{
"view":{"stroke":null},
"font":"Liberation Serif",
"mark":{"color":"black"},
"title":{"font":"Liberation Serif","fontSize":14,"fontWeight":"bold","color":"black","offset":4},
"bar":{"stroke":"black","strokeWidth":1.2},
"rule":{"color":"black","strokeWidth":1.2},
"line":{"color":"black","strokeWidth":1.2},
"tick":{"color":"black","thickness":1.2,"bandSize":6},
"text":{"font":"Liberation Serif","fontSize":12,"baseline":"bottom","dy":-1,"color":"black","fill":"black"},
"axis":{"domainColor":"black","domainWidth":1.5,"tickColor":"black","tickWidth":1.5,"tickSize":4,"labelFont":"Liberation Serif","labelFontWeight":"bold","labelFontSize":12,"labelColor":"black","labelPadding":2,"labelOverlap":false,"titleFont":"Liberation Serif","titleColor":"black","grid":false},
"axisY":{"titleFontWeight":"normal","titleFontSize":10.5,"titlePadding":0,"labelPadding":1},
"axisX":{"titleFontWeight":"bold","titleFontSize":10,"labelAngle":0,"titlePadding":1,"labelPadding":1}
}
}
